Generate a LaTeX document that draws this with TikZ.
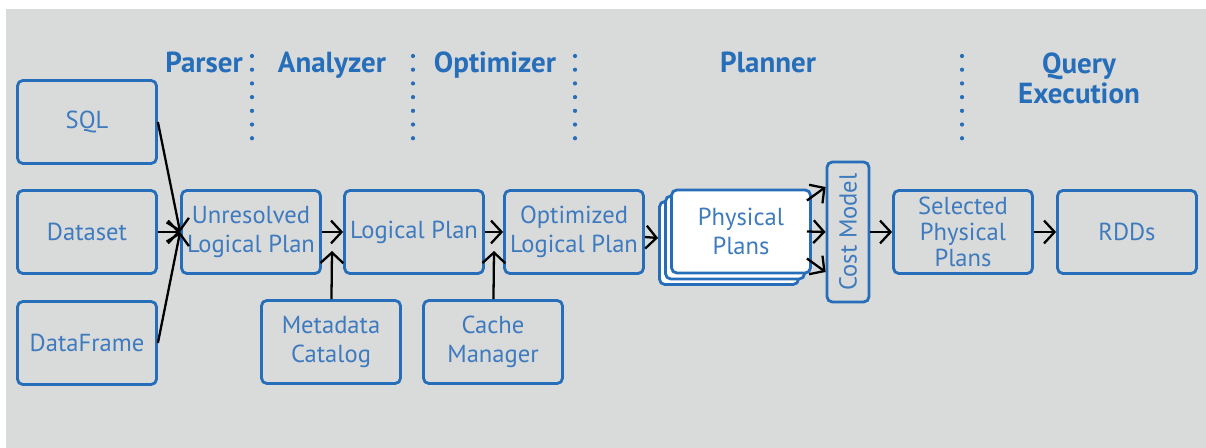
\documentclass[tikz,border=0pt]{standalone}
\usepackage{fontspec}
\setmainfont{PT Sans}
\usepackage{tikz}
\usetikzlibrary{arrows,arrows.meta,shapes}
\usetikzlibrary{calc}
\definecolor{sparkblue}{RGB}{38,110,185}
\definecolor{boxtext}{RGB}{62,122,190}
\definecolor{bggray}{RGB}{217,218,218}
\tikzstyle{stage}=[draw=sparkblue,line width=1.6pt,rounded corners=3pt,minimum width=2.78cm,minimum height=1.66cm,align=center,text=boxtext,font=\fontsize{14}{16.2}\selectfont,inner sep=0pt]
\tikzstyle{phase}=[text=sparkblue,font=\fontsize{16.5}{17.6}\selectfont\bfseries,align=center,anchor=base]
\tikzstyle{divider}=[sparkblue,line width=2.4pt,line cap=round,dash pattern=on 0pt off 7.8pt]
\tikzstyle{flow}=[-{Straight Barb[length=6pt,width=13pt]},black,line width=1.3pt]

\begin{document}
\begin{tikzpicture}[x=0.02cm,y=-0.02cm]

   \useasboundingbox (0,0) rectangle (1206,448);
   \fill[bggray] (6,9) rectangle (1206,448);

    % phase headers
    \foreach \pos/\name/\txt in {{(204,73)/parser/Parser}, {(332,73)/analyzer/Analyzer}, {(495,73)/optimizer/Optimizer}, {(768,73)/planner/Planner}, {(1079,104)/execution/Query\\Execution}}
        \node[phase] (\name) at \pos {\txt};

    \foreach \x in {252, 413, 575, 962}
        \draw[divider] (\x,56) -- (\x,148);

    % boxes
    \foreach \pos/\name/\txt in {{(87,122)/sql/SQL}, {(87,232)/dataset/Dataset}, {(87,343)/dataframe/DataFrame}, {(251,232)/unresolved/Unresolved\\Logical Plan}, {(414,232)/logical/Logical Plan}, {(331,342)/metadata/Metadata\\Catalog}, {(574,232)/optimized/Optimized\\Logical Plan}, {(493,342)/cache/Cache\\Manager}, {(1127,232)/rdds/RDDs}}
        \node[stage] (\name) at \pos {\txt};
    \node[stage,font=\fontsize{14}{14.6}\selectfont] (selected) at (963,232) {Selected\\Physical\\Plans};

    \node[stage,fill=white] (back2) at (729,243) {};
    \node[stage,fill=white] (back1) at (735,237.5) {};
    \node[stage,fill=white] (physical) at (741,231.5) {Physical\\Plans};
    \node[stage,minimum height=0.84cm,minimum width=2.8cm,rotate=90] (cost) at (848,232) {Cost Model};

    \coordinate (mdin) at (332,251);
    \coordinate (cachein) at (494,251);

    \foreach \source/\dest in {unresolved/logical, metadata/mdin, cache/cachein, logical/optimized, optimized/back2, selected/rdds}
        \draw[flow] (\source) -- (\dest);

    \draw[flow] (sql.east) -- (unresolved.west);
    \draw[flow] (dataset.east) -- (unresolved.west);
    \draw[flow] (dataframe.east) -- (unresolved.west);

\draw[flow] ([xshift=-0.1cm,yshift=0.62cm]physical.east) -- ([yshift=0.9cm]cost.north);
\draw[flow] ([xshift=-0.1cm]physical.east) -- (cost.north);
\draw[flow] ([xshift=-0.1cm,yshift=-0.54cm]physical.east) -- ([yshift=-0.8cm]cost.north);
\draw[flow] (cost.south) -- (selected.west);

\end{tikzpicture}
\end{document}
